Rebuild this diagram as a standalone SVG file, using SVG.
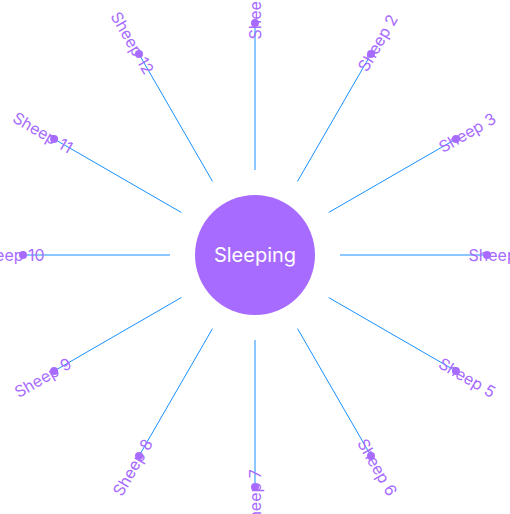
<svg xmlns="http://www.w3.org/2000/svg" width="510" height="514" viewBox="0 0 510 514">
<style>
.edge{stroke:#1890ff;stroke-width:1;fill:none}
.dot{fill:#a86bff}
.lbl{fill:#a86bff;font-family:Inter,"Liberation Sans",sans-serif;font-size:16px;text-anchor:middle;dominant-baseline:central}
.hub{fill:#a86bff}
.hubtxt{fill:#ffffff;font-family:Inter,"Liberation Sans",sans-serif;font-size:20px;text-anchor:middle;dominant-baseline:central}
</style>
<rect width="510" height="514" fill="#ffffff"/>
<g id="connectors">
<line class="edge" x1="255" y1="170" x2="255" y2="23"/>
<line class="edge" x1="297.5" y1="181.39" x2="371" y2="54.08"/>
<line class="edge" x1="328.61" y1="212.5" x2="455.92" y2="139"/>
<line class="edge" x1="340" y1="255" x2="487" y2="255"/>
<line class="edge" x1="328.61" y1="297.5" x2="455.92" y2="371"/>
<line class="edge" x1="297.5" y1="328.61" x2="371" y2="455.92"/>
<line class="edge" x1="255" y1="340" x2="255" y2="487"/>
<line class="edge" x1="212.5" y1="328.61" x2="139" y2="455.92"/>
<line class="edge" x1="181.39" y1="297.5" x2="54.08" y2="371"/>
<line class="edge" x1="170" y1="255" x2="23" y2="255"/>
<line class="edge" x1="181.39" y1="212.5" x2="54.08" y2="139"/>
<line class="edge" x1="212.5" y1="181.39" x2="139" y2="54.08"/>
</g>
<g id="sleeping">
<circle class="hub" cx="255" cy="255" r="60"/>
<text class="hubtxt" x="255" y="255">Sleeping</text>
</g>
<g id="sheep1"><text class="lbl" transform="translate(255,10) rotate(-90)">Sheep 1</text><circle class="dot" cx="255" cy="23" r="4"/></g>
<g id="sheep2"><text class="lbl" transform="translate(377.5,42.82) rotate(-60)">Sheep 2</text><circle class="dot" cx="371" cy="54.08" r="4"/></g>
<g id="sheep3"><text class="lbl" transform="translate(467.18,132.5) rotate(-30)">Sheep 3</text><circle class="dot" cx="455.92" cy="139" r="4"/></g>
<g id="sheep4"><text class="lbl" transform="translate(500,255)">Sheep 4</text><circle class="dot" cx="487" cy="255" r="4"/></g>
<g id="sheep5"><text class="lbl" transform="translate(467.18,377.5) rotate(30)">Sheep 5</text><circle class="dot" cx="455.92" cy="371" r="4"/></g>
<g id="sheep6"><text class="lbl" transform="translate(377.5,467.18) rotate(60)">Sheep 6</text><circle class="dot" cx="371" cy="455.92" r="4"/></g>
<g id="sheep7"><text class="lbl" transform="translate(255,500) rotate(-90)">Sheep 7</text><circle class="dot" cx="255" cy="487" r="4"/></g>
<g id="sheep8"><text class="lbl" transform="translate(132.5,467.18) rotate(-60)">Sheep 8</text><circle class="dot" cx="139" cy="455.92" r="4"/></g>
<g id="sheep9"><text class="lbl" transform="translate(42.82,377.5) rotate(-30)">Sheep 9</text><circle class="dot" cx="54.08" cy="371" r="4"/></g>
<g id="sheep10"><text class="lbl" transform="translate(10,255)">Sheep 10</text><circle class="dot" cx="23" cy="255" r="4"/></g>
<g id="sheep11"><text class="lbl" transform="translate(42.82,132.5) rotate(30)">Sheep 11</text><circle class="dot" cx="54.08" cy="139" r="4"/></g>
<g id="sheep12"><text class="lbl" transform="translate(132.5,42.82) rotate(60)">Sheep 12</text><circle class="dot" cx="139" cy="54.08" r="4"/></g>
</svg>
